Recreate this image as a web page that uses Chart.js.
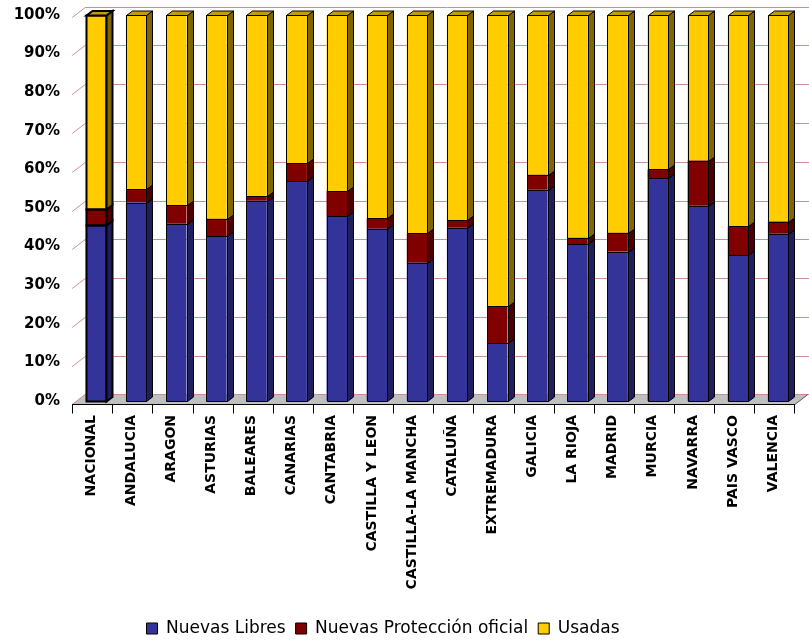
<!DOCTYPE html>
<html>
<head>
<meta charset="utf-8">
<script src="https://cdn.jsdelivr.net/npm/chart.js@4"></script>
<style>
    html, body { margin: 0; padding: 0; background: #fff; }
    #contenedor { width: 809px; height: 641px; }
</style>
</head>
<body>
<div id="contenedor"><canvas id="grafico"></canvas></div>
<script>
// Reparto de viviendas por comunidad (% del total)
const comunidades = ['NACIONAL', 'ANDALUCIA', 'ARAGON', 'ASTURIAS', 'BALEARES', 'CANARIAS',
    'CANTABRIA', 'CASTILLA Y LEON', 'CASTILLA-LA MANCHA', 'CATALUÑA', 'EXTREMADURA', 'GALICIA',
    'LA RIOJA', 'MADRID', 'MURCIA', 'NAVARRA', 'PAIS VASCO', 'VALENCIA'];

const nuevasLibres = [45.6, 51.4, 45.9, 42.7, 51.9, 57.0, 47.9, 44.6, 35.8, 44.9, 15.0, 54.7, 40.6, 38.7, 57.7, 50.6, 37.7, 43.3];
const nuevasProteccion = [4.1, 3.4, 4.9, 4.5, 1.2, 4.6, 6.5, 2.7, 7.6, 1.9, 9.6, 3.9, 1.7, 4.9, 2.3, 11.7, 7.6, 3.2];
const usadas = [50.3, 45.2, 49.2, 52.8, 46.9, 38.4, 45.6, 52.7, 56.6, 53.2, 75.4, 41.4, 57.7, 56.4, 40.0, 37.7, 54.7, 53.5];

const series = ['Nuevas Libres', 'Nuevas Protección oficial', 'Usadas'];
const colores = ['#333399', '#800000', '#ffcc00'];
const coloresLado = ['#1f1f5e', '#4d0000', '#806600'];
const coloresTecho = ['#29297a', '#660000', '#c49c00'];

const fuente = 'DejaVu Sans';

// profundidad de las barras y de la pared del fondo
const PX = 6, PY = -4.5;
const FX = 13, FY = -10;

function poligono(ctx, pts, relleno) {
    ctx.beginPath();
    ctx.moveTo(pts[0][0], pts[0][1]);
    for (let i = 1; i < pts.length; i++) ctx.lineTo(pts[i][0], pts[i][1]);
    ctx.closePath();
    if (relleno) {
        ctx.fillStyle = relleno;
        ctx.fill();
    }
    ctx.stroke();
}

const efecto3D = {
    id: 'efecto3D',
    afterLayout(chart) {
        // la leyenda va algo desplazada a la izquierda
        chart.legend.left -= 20;
        chart.legend.right -= 20;
    },
    beforeDatasetsDraw(chart) {
        const { ctx, chartArea: ca, scales: { x, y } } = chart;
        const yFrente = v => y.getPixelForValue(v) + 3.3 - 0.016 * v;
        const izq = ca.left - 3.8;
        const der = ca.right - 3.3;
        const ySuelo = yFrente(0);

        ctx.save();
        // suelo gris
        ctx.beginPath();
        ctx.moveTo(izq, ySuelo);
        ctx.lineTo(der, ySuelo);
        ctx.lineTo(der + FX, ySuelo + FY);
        ctx.lineTo(izq + FX, ySuelo + FY);
        ctx.closePath();
        ctx.fillStyle = '#c0c0c0';
        ctx.fill();

        // lineas de division en la pared lateral y la del fondo
        ctx.strokeStyle = '#cc9090';
        ctx.lineWidth = 1;
        y.ticks.forEach(t => {
            const yy = Math.round(yFrente(t.value)) + 0.5;
            ctx.beginPath();
            ctx.moveTo(izq, yy);
            ctx.lineTo(izq + FX, yy + FY);
            ctx.lineTo(der + FX + 20, yy + FY);
            ctx.stroke();
        });

        // borde del suelo y marcas de categoria
        ctx.strokeStyle = '#000';
        const ys = Math.round(ySuelo) + 0.5;
        ctx.beginPath();
        ctx.moveTo(izq, ys);
        ctx.lineTo(der, ys);
        ctx.stroke();
        ctx.strokeStyle = '#555';
        ctx.beginPath();
        ctx.moveTo(der, ys);
        ctx.lineTo(der + FX, ys + FY);
        ctx.stroke();
        ctx.strokeStyle = '#000';
        const paso = (ca.right - ca.left) / x.ticks.length;
        ctx.beginPath();
        for (let i = 0; i <= x.ticks.length; i++) {
            const xx = Math.round(izq + i * paso) + 0.5;
            ctx.moveTo(xx, ys);
            ctx.lineTo(xx, ys + 9);
        }
        ctx.stroke();
        ctx.restore();
    },
    afterDatasetsDraw(chart) {
        const ctx = chart.ctx;
        const n = chart.data.datasets.length;
        ctx.save();
        ctx.strokeStyle = '#000';
        ctx.lineJoin = 'miter';
        chart.data.datasets.forEach((ds, di) => {
            const meta = chart.getDatasetMeta(di);
            meta.data.forEach((barra, i) => {
                const { x, y, base, width } = barra.getProps(['x', 'y', 'base', 'width'], true);
                const l = Math.round(x - width / 2) + 0.5;
                const r = Math.round(x + width / 2) + 0.5;
                const arriba = Math.round(Math.min(y, base)) + 0.5;
                const abajo = Math.round(Math.max(y, base)) + 0.5;
                ctx.lineWidth = i === 0 ? 2 : 1;
                // cara frontal (solo el contorno), lateral y techo
                poligono(ctx, [[l, arriba], [r, arriba], [r, abajo], [l, abajo]], null);
                poligono(ctx, [[r, arriba], [r + PX, arriba + PY], [r + PX, abajo + PY], [r, abajo]], coloresLado[di]);
                if (di === n - 1) {
                    poligono(ctx, [[l, arriba], [l + PX, arriba + PY], [r + PX, arriba + PY], [r, arriba]], coloresTecho[di]);
                }
            });
        });
        ctx.restore();
    }
};

const datos = [nuevasLibres, nuevasProteccion, usadas];

const ctx = document.getElementById('grafico').getContext('2d');

const miGrafico = new Chart(ctx, {
    type: 'bar',
    data: {
        labels: comunidades,
        datasets: series.map((nombre, i) => ({
            label: nombre,
            data: datos[i],
            backgroundColor: colores[i],
            borderWidth: 0,
            barPercentage: 0.51,
            categoryPercentage: 1
        }))
    },
    options: {
        responsive: true,
        maintainAspectRatio: false,
        animation: false,
        layout: {
            padding: { top: 15, right: 3, bottom: -6, left: 0 }
        },
        scales: {
            x: {
                stacked: true,
                grid: { display: false, drawTicks: false },
                border: { display: false },
                ticks: {
                    minRotation: 90,
                    maxRotation: 90,
                    autoSkip: false,
                    padding: 14,
                    labelOffset: -5,
                    color: '#000',
                    font: { family: fuente, size: 14, weight: 'bold' }
                },
                afterFit: s => { s.height = 209; }
            },
            y: {
                stacked: true,
                min: 0,
                max: 100,
                grid: { display: false, drawTicks: false },
                border: { display: false },
                ticks: {
                    stepSize: 10,
                    padding: 16,
                    color: '#000',
                    font: { family: fuente, size: 15, weight: 'bold' },
                    callback: v => v + '%'
                },
                afterFit: s => {
                    s.width = 76;
                    s.paddingTop = 0;
                    s.paddingBottom = 0;
                }
            }
        },
        plugins: {
            legend: {
                position: 'bottom',
                labels: {
                    boxWidth: 11,
                    boxHeight: 11,
                    padding: 10,
                    color: '#000',
                    font: { family: fuente, size: 17 },
                    generateLabels: chart => Chart.defaults.plugins.legend.labels.generateLabels(chart)
                        .map(item => Object.assign(item, { lineWidth: 1, strokeStyle: '#000' }))
                }
            },
            tooltip: { enabled: false }
        }
    },
    plugins: [efecto3D]
});
</script>
</body>
</html>
